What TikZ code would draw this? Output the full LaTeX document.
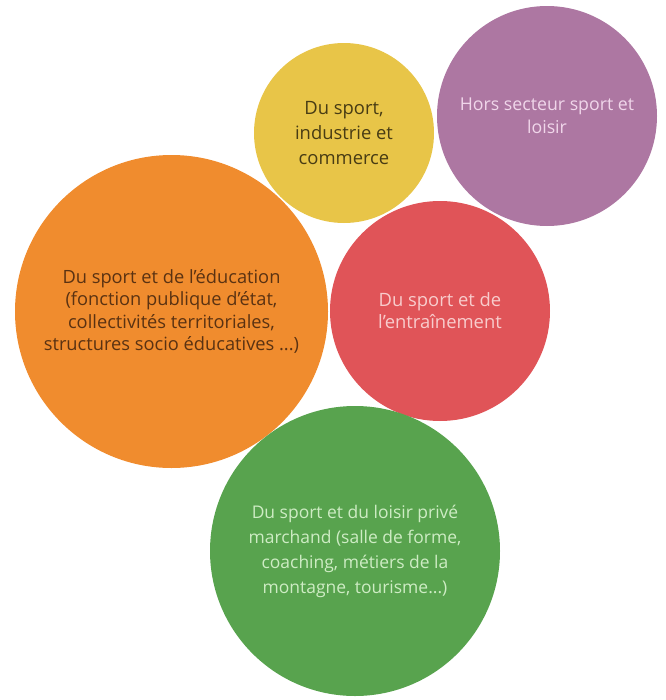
\documentclass[tikz,border=0pt]{standalone}
\usepackage{fontspec}
\setmainfont{Open Sans}
\definecolor{cyellow}{RGB}{232,197,72}
\definecolor{cpurple}{RGB}{173,119,162}
\definecolor{corange}{RGB}{240,140,46}
\definecolor{cred}{RGB}{224,84,88}
\definecolor{cgreen}{RGB}{88,163,78}
\definecolor{tyellow}{RGB}{72,60,20}
\definecolor{torange}{RGB}{90,50,18}
\definecolor{tpurple}{RGB}{240,214,234}
\definecolor{tred}{RGB}{248,204,204}
\definecolor{tgreen}{RGB}{206,236,196}
\begin{document}
\begin{tikzpicture}[x=0.75pt,y=-0.75pt,
  bubble/.style={circle, inner sep=0pt, align=center, draw=none}]
\useasboundingbox (0,0) rectangle (666,700);
\node[bubble, fill=cyellow, text=tyellow, minimum size=135pt,
  font=\fontsize{13.8}{18.75}\selectfont] (indus) at (344,133)
  {Du sport,\\industrie et\\commerce};
\node[bubble, fill=cpurple, text=tpurple, minimum size=165pt,
  font=\fontsize{13.3}{17.6}\selectfont] (hors) at (547,116)
  {Hors secteur sport et\\loisir};
\node[bubble, fill=corange, text=torange, minimum size=234.75pt,
  font=\fontsize{13.7}{16.7}\selectfont] (educ) at (171.5,311.5)
  {Du sport et de l’éducation\\(fonction publique d’état,\\collectivités territoriales,\\structures socio éducatives ...)};
\node[bubble, fill=cred, text=tred, minimum size=165pt,
  font=\fontsize{13.8}{16.5}\selectfont] (entr) at (440,311)
  {Du sport et de\\l’entraînement};
\node[bubble, fill=cgreen, text=tgreen, minimum size=217.5pt,
  font=\fontsize{13.1}{18.75}\selectfont] (prive) at (355,551)
  {Du sport et du loisir privé\\marchand (salle de forme,\\coaching, métiers de la\\montagne, tourisme...)};
\end{tikzpicture}
\end{document}
